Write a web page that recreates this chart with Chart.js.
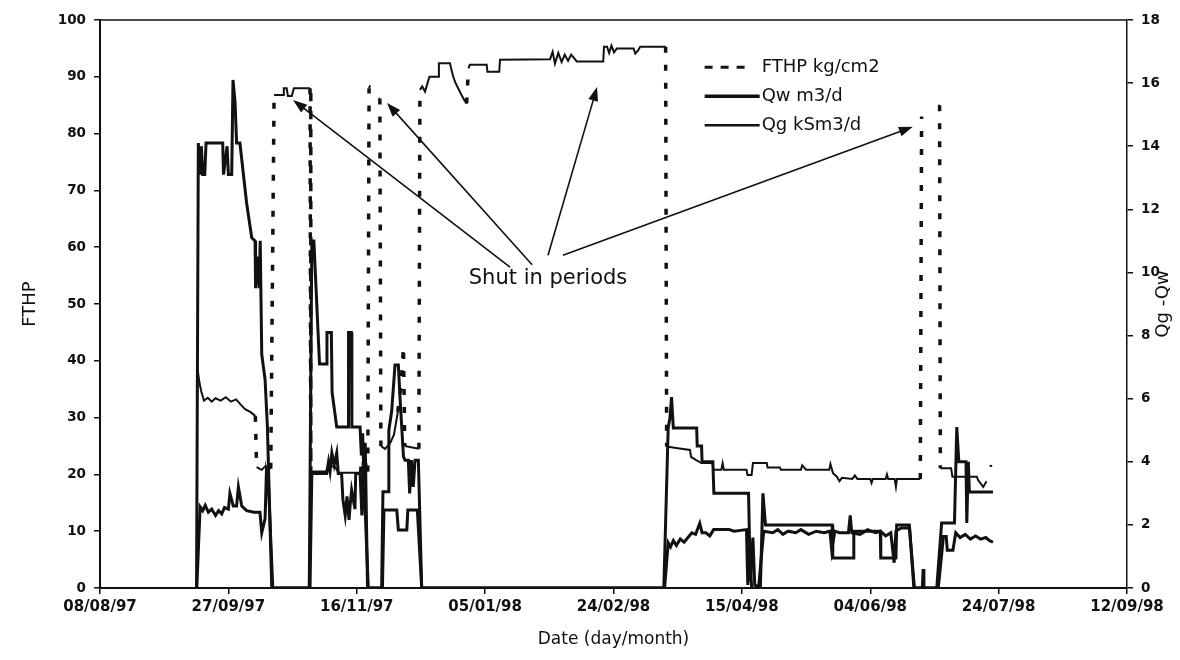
<!DOCTYPE html>
<html>
<head>
<meta charset="UTF-8">
<title>FTHP, Qw and Qg</title>
<script src="https://cdn.jsdelivr.net/npm/chart.js@4.4.1/dist/chart.umd.min.js"></script>
<style>
  html, body { margin: 0; padding: 0; background: #fff; }
  #wrap { width: 1180px; height: 660px; }
</style>
</head>
<body>
<div id="wrap"><canvas id="chart" width="1180" height="660"></canvas></div>
<script>
// x values are days counted from 08/08/97
const xTickLabels = ['08/08/97', '27/09/97', '16/11/97', '05/01/98', '24/02/98',
                     '15/04/98', '04/06/98', '24/07/98', '12/09/98'];

// FTHP kg/cm2 (left axis), null = no reading
const fthpDays = [
  38.0, 38.8, 39.5, 40.5, 42.0, 43.5, 45.0, 47.0, 49.0, 51.0, 53.0, 55.0, 56.5, 58.5, 60.5, 61.0, 63.0, 64.5, 66.5, 67.8,
  71.4, 71.6, 72.7, 73.2, 74.7, 75.5, 81.8, 82.1,
  88.0, 89.0, 91.5, 93.0, 101.5, 102.4, 102.8, 103.5, 104.3, 104.8, 105.2, 105.5, 108.6, 109.0, 109.4,
  111.0, 113.0, 114.5, 116.0, 117.3, 118.2, 118.7, 124.2, 124.6, 125.5, 126.6, 128.3, 131.8, 132.0, 136.3, 137.0,
  137.6, 138.3, 140.0, 142.0, 142.8, 143.5, 144.0, 150.6, 150.9, 155.5, 155.8, 175.3, 176.3, 177.2, 178.5, 179.8,
  181.0, 182.3, 183.5, 185.7, 196.0, 196.3, 197.5, 198.3, 199.2, 200.2, 201.3, 207.8, 208.5, 209.5, 210.4, 220.3, 220.7,
  225.0, 229.8, 230.2, 232.2, 234.3, 238.5, 239.0, 242.0, 242.5, 243.0, 251.8, 252.2, 253.8, 254.3, 259.7, 260.0,
  264.8, 265.2, 273.0, 273.5, 275.0, 284.0, 284.5, 285.5, 287.0, 288.0, 289.0, 293.0, 294.0, 295.0, 300.0, 300.5,
  301.0, 306.0, 306.5, 307.0, 309.5, 310.0, 310.4, 319.5, 320.0, 320.2, 326.6, 327.0, 327.3, 331.5, 332.0, 341.5,
  342.0, 344.0, 345.3, 345.8, 346.5, 347.5
];
const fthpVals = [
  38.5, 36.0, 34.5, 33.0, 33.5, 32.8, 33.4, 33.0, 33.6, 32.8, 33.2, 32.2, 31.5, 31.0, 30.3, 21.3, 20.8, 21.5, 21.0, 86.8,
  86.8, 88.0, 88.0, 86.6, 86.6, 88.0, 88.0, 20.5,
  20.5, 21.5, 21.3, 20.3, 20.3, 26.0, 17.0, 22.0, 20.5, 88.0, 88.5, null, 86.2, 86.2, 25.0,
  24.5, 25.5, 27.0, 31.0, 36.0, 42.5, 25.0, 24.5, 87.7, 88.3, 87.4, 90.0, 90.0, 92.4, 92.4, 91.0,
  90.0, 89.1, 87.5, 85.8, 85.3, 91.5, 92.1, 92.1, 90.9, 90.9, 93.0, 93.1, 94.4, 92.3, 94.2, 92.6,
  93.9, 92.8, 93.9, 92.7, 92.7, 95.3, 95.3, 94.2, 95.5, 94.3, 95.0, 95.0, 94.1, 94.6, 95.3, 95.3, 24.9,
  24.6, 24.3, 23.1, 22.5, 22.0, 22.0, 20.8, 20.8, 22.0, 20.8, 20.8, 19.9, 19.9, 22.0, 22.0, 21.2,
  21.2, 20.8, 20.8, 21.6, 20.8, 20.8, 21.8, 20.2, 19.6, 18.8, 19.4, 19.2, 19.8, 19.2, 19.2, 18.5,
  19.2, 19.2, 20.0, 19.2, 19.2, 17.8, 19.2, 19.2, 83.0, null, 85.0, 85.0, 21.1, 21.1, 19.6, 19.6,
  19.0, 17.8, 18.8, null, 21.5, 21.5
];

// Qw m3/d (right axis)
const qwDays = [
  37.7, 39.0, 40.0, 41.0, 42.2, 43.5, 45.0, 46.2, 47.4, 48.5, 50.0, 50.6, 51.9, 53.2, 53.9, 55.2, 57.1, 60.0, 62.3, 63.0, 64.3, 64.8, 65.6, 67.3,
  81.8, 82.5, 88.3, 89.0, 89.6, 90.3, 91.2, 92.2, 92.8, 94.1, 94.6, 95.5, 96.2, 97.0, 97.4, 98.0, 99.3, 99.6, 101.3, 102.0, 102.6, 103.2, 104.5,
  110.0, 110.6, 115.6, 116.2, 119.5, 119.9, 123.6, 125.3,
  219.9, 221.3, 222.2, 223.3, 224.5, 226.0, 227.5, 229.0, 230.5, 232.0, 233.6, 234.5, 236.0, 237.5, 239.0, 245.0,
  247.0, 251.8, 252.3, 253.0, 253.8, 256.5, 258.5, 262.0, 264.0, 266.0, 268.0, 271.0, 273.0, 276.0, 279.0, 282.0,
  284.3, 285.0, 286.2, 288.0, 291.5, 292.2, 292.8, 296.0, 299.0, 302.0, 304.0, 306.0, 308.0, 309.3, 310.0, 312.0,
  315.3, 317.0, 326.5, 328.5, 329.6, 330.0, 332.2, 333.3, 335.0, 337.0, 339.0, 341.0, 343.0, 345.0, 346.5, 347.8
];
const qwVals = [
  0, 2.57, 2.45, 2.62, 2.4, 2.5, 2.3, 2.45, 2.35, 2.55, 2.5, 3.0, 2.6, 2.6, 3.2, 2.6, 2.45, 2.4, 2.4, 1.75, 2.2, 3.63, 3.3, 0,
  0, 3.63, 3.63, 4.0, 3.7, 4.28, 3.9, 4.28, 3.63, 3.63, 2.8, 2.3, 2.9, 2.16, 2.6, 3.1, 2.5, 3.63, 3.63, 2.3, 3.8, 2.6, 0,
  0, 2.47, 2.47, 1.84, 1.84, 2.47, 2.47, 0,
  0, 1.43, 1.3, 1.5, 1.35, 1.55, 1.45, 1.6, 1.75, 1.7, 2.05, 1.75, 1.75, 1.65, 1.85, 1.85,
  1.8, 1.85, 0.1, 1.3, 0, 0, 1.8, 1.75, 1.85, 1.7, 1.8, 1.75, 1.85, 1.7, 1.8, 1.75,
  1.8, 1.2, 1.8, 1.75, 1.75, 2.3, 1.75, 1.7, 1.85, 1.75, 1.8, 1.65, 1.75, 0.8, 1.8, 1.9,
  1.9, 0, 0, 1.63, 1.63, 1.2, 1.2, 1.75, 1.6, 1.7, 1.55, 1.65, 1.55, 1.6, 1.5, 1.45
];

// Qg kSm3/d (right axis)
const qgDays = [
  37.6, 38.3, 38.8, 39.5, 40.0, 40.8, 41.3, 47.8, 48.1, 49.5, 50.0, 51.3, 51.8, 52.6, 53.2, 54.5, 57.1, 59.1, 60.4, 60.6, 61.5, 62.0, 62.4, 63.0, 64.3, 65.2, 66.9,
  81.5, 82.5, 83.3, 85.5, 88.2, 88.4, 90.1, 90.4, 92.2, 96.6, 96.8, 97.9, 98.1, 101.3, 101.8, 102.3, 102.8, 103.3, 104.2,
  109.7, 110.2, 112.3, 112.5, 113.6, 114.9, 116.2, 116.9, 118.2, 118.8, 120.1, 120.6, 121.3, 122.0, 122.7, 124.0, 125.3,
  219.6, 221.3, 222.0, 222.6, 223.3, 232.4, 232.6, 234.3, 234.5, 238.7, 239.1, 252.6, 253.3, 254.3, 255.0, 257.2,
  258.2, 259.2, 285.2, 285.4, 293.3, 293.6, 303.9, 304.1, 310.0, 310.3, 315.2, 317.2, 320.3, 320.6, 320.9, 325.9,
  327.8, 332.8, 333.7, 334.5, 337.3, 337.6, 338.2, 338.6, 347.8
];
const qgVals = [
  0, 14.1, 13.1, 14.0, 13.1, 13.1, 14.1, 14.1, 13.1, 14.0, 13.1, 13.1, 16.1, 15.4, 14.1, 14.1, 12.2, 11.1, 11.0, 9.5, 10.5, 9.5, 11.0, 7.4, 6.6, 5.1, 0,
  0, 11.0, 11.0, 7.1, 7.1, 8.1, 8.1, 6.2, 5.1, 5.1, 8.1, 8.1, 5.1, 5.1, 4.2, 4.9, 3.5, 4.6, 0,
  0, 3.05, 3.05, 5.0, 5.6, 7.07, 7.07, 5.96, 4.16, 4.05, 4.05, 3.0, 4.05, 3.2, 4.05, 4.05, 0,
  0, 5.07, 5.4, 6.05, 5.07, 5.07, 4.5, 4.5, 4.0, 4.0, 3.0, 3.0, 0.2, 1.6, 0.1, 0,
  3.0, 2.0, 2.0, 0.95, 0.95, 1.8, 1.8, 0.95, 0.95, 2.0, 2.0, 0, 0, 0.6, 0, 0,
  2.06, 2.06, 5.1, 4.0, 4.0, 2.06, 4.0, 3.04, 3.04
];

const seriesNames = ['FTHP kg/cm2', 'Qw m3/d', 'Qg kSm3/d'];

function points(days, vals) {
  return days.map((d, i) => ({ x: d, y: vals[i] }));
}

// big jumps of FTHP show up dashed, small steps look solid
const jump = c => Math.abs(c.p1.parsed.y - c.p0.parsed.y) > 4;

const ink = '#111';
Chart.defaults.font.family = '"DejaVu Sans", Arial, sans-serif';
Chart.defaults.color = ink;

// legend, arrows, the "Shut in periods" note, top frame and right axis title
const overlay = {
  id: 'overlay',
  afterDraw(chart) {
    const { ctx, chartArea: a, scales: { x, y } } = chart;
    ctx.save();
    ctx.strokeStyle = ink;
    ctx.fillStyle = ink;

    ctx.lineWidth = 1.5;
    ctx.beginPath();
    ctx.moveTo(a.left, a.top);
    ctx.lineTo(a.right, a.top);
    ctx.stroke();

    // legend
    const lx = x.getPixelForValue(235.5);
    const ly = y.getPixelForValue(91.7);
    ctx.font = '18px "DejaVu Sans", Arial, sans-serif';
    ctx.textBaseline = 'middle';
    seriesNames.forEach((name, i) => {
      const yy = ly + i * 29;
      ctx.beginPath();
      if (i === 0) {
        ctx.lineWidth = 3;
        ctx.setLineDash([8, 8]);
        ctx.moveTo(lx, yy);
        ctx.lineTo(lx + 42, yy);
      } else {
        ctx.lineWidth = i === 1 ? 3.5 : 2.5;
        ctx.setLineDash([]);
        ctx.moveTo(lx, yy);
        ctx.lineTo(lx + 55, yy);
      }
      ctx.stroke();
      ctx.setLineDash([]);
      ctx.fillText(name, lx + 57, yy);
    });

    // arrows from the note to the shut in tops
    const tails = [[159.7, 56.5], [168.3, 56.9], [174.5, 58.6], [180.3, 58.6]];
    const tips = [[75.2, 85.9], [111.8, 85.4], [193.6, 88.2], [316.6, 81.2]];
    ctx.lineWidth = 1.6;
    tails.forEach((t, i) => {
      const x0 = x.getPixelForValue(t[0]), y0 = y.getPixelForValue(t[1]);
      const x1 = x.getPixelForValue(tips[i][0]), y1 = y.getPixelForValue(tips[i][1]);
      const ang = Math.atan2(y1 - y0, x1 - x0);
      ctx.beginPath();
      ctx.moveTo(x0, y0);
      ctx.lineTo(x1 - 10 * Math.cos(ang), y1 - 10 * Math.sin(ang));
      ctx.stroke();
      ctx.beginPath();
      ctx.moveTo(x1, y1);
      ctx.lineTo(x1 - 14 * Math.cos(ang) + 5 * Math.sin(ang), y1 - 14 * Math.sin(ang) - 5 * Math.cos(ang));
      ctx.lineTo(x1 - 14 * Math.cos(ang) - 5 * Math.sin(ang), y1 - 14 * Math.sin(ang) + 5 * Math.cos(ang));
      ctx.closePath();
      ctx.fill();
    });

    ctx.font = '21px "DejaVu Sans", Arial, sans-serif';
    ctx.textAlign = 'center';
    ctx.fillText('Shut in periods', x.getPixelForValue(174.5), y.getPixelForValue(54.4));

    // right axis title
    ctx.font = '18px "DejaVu Sans", Arial, sans-serif';
    ctx.translate(a.right + 36, (a.top + a.bottom) / 2);
    ctx.rotate(-Math.PI / 2);
    ctx.fillText('Qg -Qw', 0, 0);
    ctx.restore();
  }
};

const tickFont = { size: 13.5, weight: 'bold' };
const axisGrid = { display: true, drawOnChartArea: false, drawTicks: true, tickLength: 6, color: ink, lineWidth: 1.5 };

new Chart(document.getElementById('chart'), {
  type: 'line',
  data: {
    datasets: [
      {
        label: seriesNames[0],
        data: points(fthpDays, fthpVals),
        yAxisID: 'y',
        borderColor: ink,
        borderWidth: 2,
        pointRadius: 0,
        spanGaps: false,
        segment: {
          borderDash: c => jump(c) ? [6, 12] : [],
          borderWidth: c => jump(c) ? 3.5 : 2
        }
      },
      {
        label: seriesNames[1],
        data: points(qwDays, qwVals),
        yAxisID: 'y2',
        borderColor: ink,
        borderWidth: 3,
        pointRadius: 0
      },
      {
        label: seriesNames[2],
        data: points(qgDays, qgVals),
        yAxisID: 'y2',
        borderColor: ink,
        borderWidth: 3,
        pointRadius: 0
      }
    ]
  },
  options: {
    responsive: false,
    animation: false,
    devicePixelRatio: 1,
    layout: { padding: { top: 20, left: 0, right: 0, bottom: 0 } },
    plugins: { legend: { display: false }, tooltip: { enabled: false } },
    scales: {
      x: {
        type: 'linear',
        min: 0,
        max: 400,
        ticks: {
          stepSize: 50,
          maxRotation: 0,
          padding: 4,
          font: { size: 15, weight: 'bold' },
          callback: v => xTickLabels[Math.round(v / 50)]
        },
        grid: axisGrid,
        border: { color: ink, width: 2 },
        title: { display: true, text: 'Date (day/month)', font: { size: 17 }, padding: { top: 0, bottom: 10 } },
        afterFit: s => { s.height = 72; }
      },
      y: {
        position: 'left',
        min: 0,
        max: 100,
        ticks: { stepSize: 10, padding: 8, font: tickFont },
        grid: axisGrid,
        border: { color: ink, width: 2 },
        title: { display: true, text: 'FTHP', font: { size: 18 }, padding: { top: 20, bottom: 0 } },
        afterFit: s => { s.width = 100; }
      },
      y2: {
        position: 'right',
        min: 0,
        max: 18,
        ticks: { stepSize: 2, padding: 8, font: tickFont },
        grid: axisGrid,
        border: { color: ink, width: 1.5 },
        afterFit: s => { s.width = 53; }
      }
    }
  },
  plugins: [overlay]
});
</script>
</body>
</html>
